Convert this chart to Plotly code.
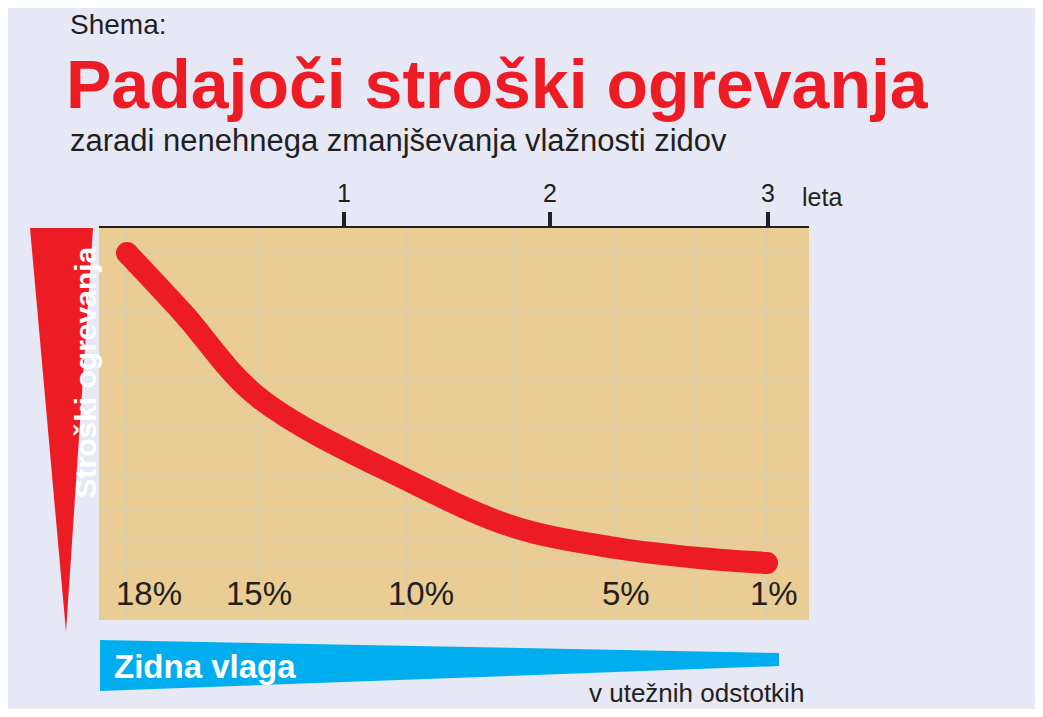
import plotly.graph_objects as go

# curve (x: position along the chart, y: heating cost, arbitrary units)
curve_x = [28, 84, 159, 308, 415, 517, 600, 668]
curve_y = [367, 307, 223, 140, 93, 72, 62, 57]
grid_x = [28, 160, 308, 415, 517, 595, 668]
grid_y = [367, 310, 239, 193, 144, 110, 81, 57]
moisture_labels = ["18%", "15%", "10%", "5%", "1%"]
moisture_x = [50, 160, 322, 527, 675]
year_labels = ["1", "2", "3"]
year_x = [245, 451, 669]

RED = "#ED1C24"
BLUE = "#00AEEF"
TAN = "#E9CD94"
BG = "#E6E8F5"
GRID = "#CFCBC0"
FONT = "Liberation Sans, Arial, sans-serif"

OFF = 8  # page margin of the browser
W, H = 1043 - 2 * OFF, 717 - 2 * OFF
L, R, T, B = 99, 809, 228, 620


def px(x):
    return (x - L) / (R - L)


def py(y):
    return (B - y) / (B - T)


fig = go.Figure()
fig.add_trace(go.Scatter(
    x=curve_x, y=curve_y, mode="lines", line=dict(color=RED, width=22, shape="spline", smoothing=1.0),
    hoverinfo="skip", showlegend=False))
fig.add_trace(go.Scatter(
    x=[curve_x[0], curve_x[-1]], y=[curve_y[0], curve_y[-1]], mode="markers",
    marker=dict(color=RED, size=22), hoverinfo="skip", showlegend=False))
fig.add_trace(go.Scatter(x=[year_x[0]], y=[0], xaxis="x2", mode="markers",
                         marker=dict(opacity=0), hoverinfo="skip", showlegend=False))

for lab, xv in zip(moisture_labels, moisture_x):
    fig.add_annotation(x=xv, y=6, text=lab, showarrow=False, yanchor="bottom",
                       font=dict(size=33, color="#231F20", family=FONT))

shapes = []
for gx in grid_x:
    shapes.append(dict(type="line", x0=gx, x1=gx, y0=0, y1=392, xref="x", yref="y",
                       line=dict(color=GRID, width=1), layer="below"))
for gy in grid_y:
    shapes.append(dict(type="line", x0=0, x1=710, y0=gy, y1=gy, xref="x", yref="y",
                       line=dict(color=GRID, width=1), layer="below"))
# red wedge on the left
shapes.append(dict(type="path", xref="paper", yref="paper", fillcolor=RED, line=dict(width=0),
                   path=f"M {px(30)} {py(228)} L {px(93)} {py(228)} L {px(66)} {py(632)} Z"))
# blue wedge at the bottom
shapes.append(dict(type="path", xref="paper", yref="paper", fillcolor=BLUE, line=dict(width=0),
                   path=f"M {px(100)} {py(640)} L {px(779)} {py(653)} L {px(779)} {py(666)} L {px(100)} {py(691)} Z"))

fig.update_layout(
    width=W, height=H, paper_bgcolor=BG, plot_bgcolor=TAN,
    margin=dict(l=L - OFF, r=1043 - OFF - R, t=T - OFF, b=717 - OFF - B),
    xaxis=dict(range=[0, R - L], showticklabels=False, ticks="", showgrid=False, zeroline=False),
    yaxis=dict(range=[0, B - T], showticklabels=False, ticks="", showgrid=False, zeroline=False),
    xaxis2=dict(range=[0, R - L], overlaying="x", side="top", tickvals=year_x,
                ticktext=year_labels, ticks="outside", ticklen=14, tickwidth=4,
                tickcolor="#231F20", showgrid=False, zeroline=False,
                showline=True, linecolor="#231F20", linewidth=2,
                tickfont=dict(size=25, color="#231F20", family=FONT)),
    shapes=shapes,
)

texts = [
    (68, 24, "Shema:", 28, "#231F20", "left"),
    (64, 84, "<b>Padajoči stroški ogrevanja</b>", 68, RED, "left"),
    (68, 140, "zaradi nenehnega zmanjševanja vlažnosti zidov", 31, "#231F20", "left"),
    (800, 197, "leta", 25, "#231F20", "left"),
    (112, 666, "<b>Zidna vlaga</b>", 33, "white", "left"),
    (806, 693, "v utežnih odstotkih", 26, "#231F20", "right"),
]
for x, y, t, s, c, anch in texts:
    fig.add_annotation(xref="paper", yref="paper", x=px(x), y=py(y), text=t, showarrow=False,
                       xanchor=anch, yanchor="middle", font=dict(size=s, color=c, family=FONT))
fig.add_annotation(xref="paper", yref="paper", x=px(66), y=py(373), text="<b>Stroški ogrevanja</b>",
                   textangle=-90, showarrow=False, font=dict(size=30, color="white", family=FONT))

fig.write_html("out.html")
